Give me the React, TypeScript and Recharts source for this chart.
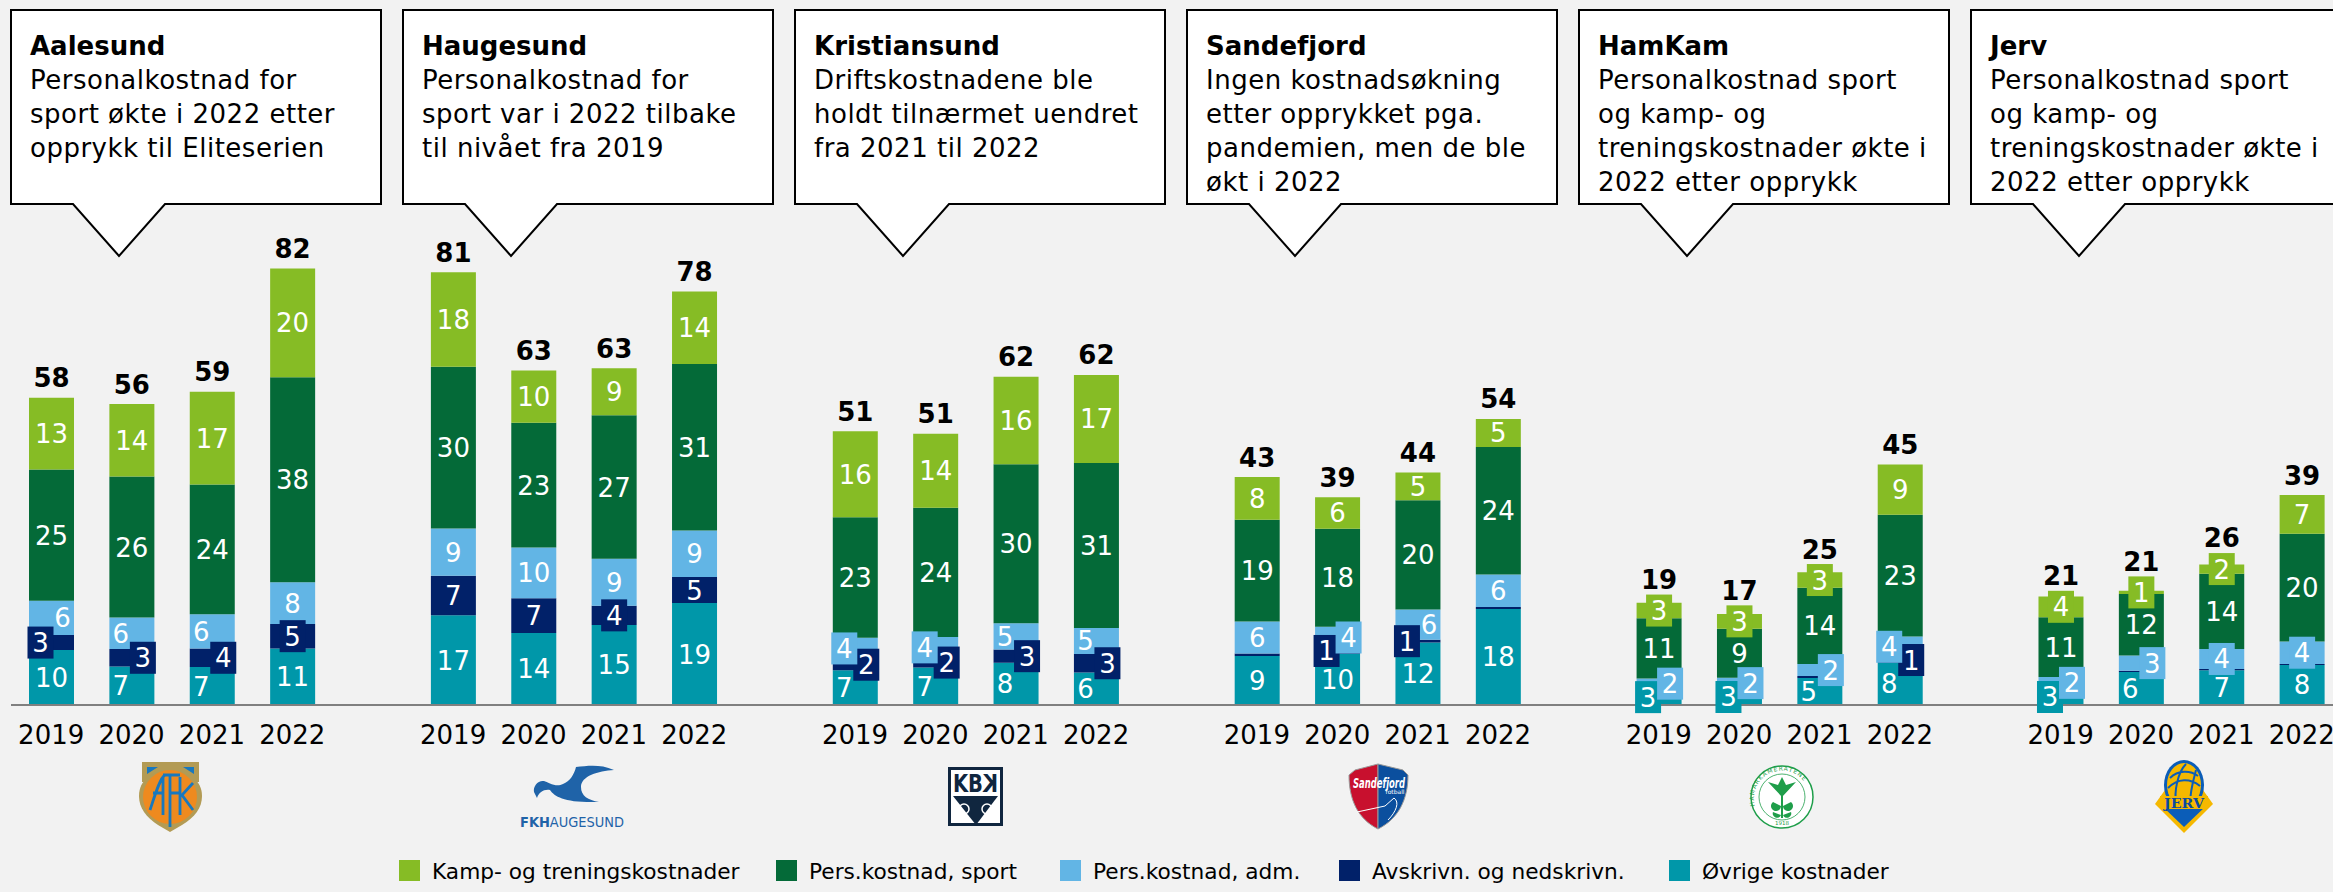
import React from "react";
import { BarChart, Bar, XAxis, YAxis, LabelList, Legend } from "recharts";

const clubs = ["Aalesund", "Haugesund", "Kristiansund", "Sandefjord", "HamKam", "Jerv"];
const years = ["2019", "2020", "2021", "2022"];

// Values per club, four years each (MNOK).
const ovrige = [
  10.3, 7.2, 7.1, 10.6,
  16.8, 13.5, 15.0, 19.1,
  6.5, 7.05, 7.9, 6.1,
  9.2, 9.6, 11.7, 18.0,
  2.95, 3.0, 5.07, 7.9,
  3.0, 6.2, 6.5, 7.5,
];
const avskrivn = [
  2.8, 3.3, 3.5, 4.6,
  7.4, 6.5, 3.6, 4.9,
  2.1, 1.8, 2.5, 3.45,
  0.45, 1.05, 0.52, 0.37,
  0.1, 0.1, 0.35, 1.06,
  0.05, 0.2, 0.25, 0.2,
];
const adm = [
  6.45, 5.9, 6.4, 7.8,
  8.9, 9.5, 8.8, 8.7,
  4.0, 3.9, 4.9, 4.9,
  6.0, 4.0, 5.7, 6.1,
  1.9, 2.0, 2.25, 3.9,
  2.2, 2.9, 3.75, 4.2,
];
const sport = [
  24.6, 26.4, 24.3, 38.4,
  30.3, 23.4, 26.9, 31.2,
  22.6, 24.2, 29.8, 30.9,
  19.06, 18.4, 20.45, 23.9,
  11.3, 9.2, 14.3, 22.8,
  11.2, 11.5, 14.1, 20.2,
];
const kamp = [
  13.45, 13.6, 17.4, 20.4,
  17.7, 9.8, 8.8, 13.6,
  16.1, 13.9, 16.4, 16.5,
  8.0, 5.9, 5.2, 5.25,
  2.9, 2.75, 2.9, 9.4,
  3.9, 0.6, 1.75, 7.25,
];
const totals = [
  58, 56, 59, 82,
  81, 63, 63, 78,
  51, 51, 62, 62,
  43, 39, 44, 54,
  19, 17, 25, 45,
  21, 21, 26, 39,
];

const seriesNames = {
  kamp: "Kamp- og treningskostnader",
  sport: "Pers.kostnad, sport",
  adm: "Pers.kostnad, adm.",
  avskrivn: "Avskrivn. og nedskrivn.",
  ovrige: "Øvrige kostnader",
};

const notes: string[][] = [
  ["Personalkostnad for", "sport økte i 2022 etter", "opprykk til Eliteserien"],
  ["Personalkostnad for", "sport var i 2022 tilbake", "til nivået fra 2019"],
  ["Driftskostnadene ble", "holdt tilnærmet uendret", "fra 2021 til 2022"],
  ["Ingen kostnadsøkning", "etter opprykket pga.", "pandemien, men de ble", "økt i 2022"],
  ["Personalkostnad sport", "og kamp- og", "treningskostnader økte i", "2022 etter opprykk"],
  ["Personalkostnad sport", "og kamp- og", "treningskostnader økte i", "2022 etter opprykk"],
];

const rows: any[] = [];
const rowById: Record<string, any> = {};
clubs.forEach((club, c) => {
  years.forEach((year, y) => {
    const i = c * 4 + y;
    const row = {
      id: `${club}-${year}`,
      year,
      ovrige: ovrige[i],
      avskrivn: avskrivn[i],
      adm: adm[i],
      sport: sport[i],
      kamp: kamp[i],
      total: totals[i],
    };
    rows.push(row);
    rowById[row.id] = row;
  });
  if (c < clubs.length - 1) {
    rows.push({ id: `gap-${c}`, year: "" });
  }
});

// Label placement (horizontal shift of labels on short segments, and extra lift of totals).
const S = 11;
const labelShift: Record<string, Record<string, number>> = {
  "Aalesund-2019": { adm: S, avskrivn: -S },
  "Aalesund-2020": { ovrige: -S, adm: -S, avskrivn: S },
  "Aalesund-2021": { ovrige: -S, adm: -S, avskrivn: S },
  "Kristiansund-2019": { ovrige: -S, adm: -S, avskrivn: S },
  "Kristiansund-2020": { ovrige: -S, adm: -S, avskrivn: S },
  "Kristiansund-2021": { ovrige: -S, adm: -S, avskrivn: S },
  "Kristiansund-2022": { ovrige: -S, adm: -S, avskrivn: S },
  "Sandefjord-2020": { adm: S, avskrivn: -S },
  "Sandefjord-2021": { adm: S, avskrivn: -S },
  "HamKam-2019": { ovrige: -S, adm: S },
  "HamKam-2020": { ovrige: -S, adm: S },
  "HamKam-2021": { ovrige: -S, adm: S },
  "HamKam-2022": { ovrige: -S, adm: -S, avskrivn: S },
  "Jerv-2019": { ovrige: -S, adm: S },
  "Jerv-2020": { ovrige: -S, adm: S },
};
const totalLift: Record<string, number> = {
  "HamKam-2019": 3,
  "HamKam-2020": 3.5,
  "HamKam-2021": 3,
  "Jerv-2019": 1,
  "Jerv-2020": 9,
  "Jerv-2021": 7,
};

const FONT = '"DejaVu Sans", Verdana, sans-serif';
const COLORS: Record<string, string> = {
  kamp: "#86BC25",
  sport: "#046A38",
  adm: "#62B5E5",
  avskrivn: "#012169",
  ovrige: "#0097A9",
};
const LEGEND_X = [399, 776, 1060, 1339, 1669];
const legendOrder = ["kamp", "sport", "adm", "avskrivn", "ovrige"];

const segmentLabel = (key: string) => (props: any) => {
  const { x, y, width, height, value } = props;
  const row = rowById[value];
  if (!row) return null;
  const v = Math.round(row[key]);
  if (v === 0) return null;
  const dx = labelShift[row.id]?.[key] ?? 0;
  const cx = x + width / 2 + dx;
  const cy = y + height / 2;
  return (
    <g>
      {height < 25.5 ? <rect x={cx - 13} y={cy - 16} width={26} height={32} fill={COLORS[key]} /> : null}
      <text x={cx} y={cy + 9.5} textAnchor="middle" fontSize={26} fill="#fff" fontFamily={FONT}>
        {v}
      </text>
    </g>
  );
};

const totalLabel = (props: any) => {
  const { x, y, width, value } = props;
  const row = rowById[value];
  if (!row) return null;
  const lift = totalLift[row.id] ?? 0;
  return (
    <text
      x={x + width / 2}
      y={y - 20 - lift + 9.5}
      textAnchor="middle"
      fontSize={26}
      fontWeight={700}
      fill="#000"
      fontFamily={FONT}
    >
      {row.total}
    </text>
  );
};

const LegendBlock = () => (
  <div style={{ position: "relative", width: 2333, height: 40, fontFamily: FONT }}>
    {legendOrder.map((k, i) => (
      <div key={k} style={{ position: "absolute", left: LEGEND_X[i], top: 16, display: "flex", alignItems: "center" }}>
        <div style={{ width: 21, height: 21, background: COLORS[k], marginRight: 12 }} />
        <span style={{ fontSize: 21.7, color: "#000", whiteSpace: "nowrap", lineHeight: "21px", position: "relative", top: 1 }}>
          {(seriesNames as any)[k]}
        </span>
      </div>
    ))}
  </div>
);

const Callout = ({ left, title, lines }: { left: number; title: string; lines: string[] }) => {
  const t = 10;
  const b = 204;
  const r = left + 370;
  const d = `M${left},${t} H${r} V${b} H${left + 154} L${left + 108},256 L${left + 62},${b} H${left} Z`;
  return (
    <g fontFamily={FONT} fontSize={26} fill="#000">
      <path d={d} fill="#fff" stroke="#000" strokeWidth={2} />
      <text x={left + 19} y={55} fontWeight={700}>
        {title}
      </text>
      {lines.map((l, i) => (
        <text key={i} x={left + 19} y={89 + i * 34} letterSpacing={0.5}>
          {l}
        </text>
      ))}
    </g>
  );
};

const Logos = () => (
  <g>
    {/* Aalesund */}
    <rect x={142} y={762} width={57} height={20} fill="#B39B54" />
    <path d="M147,767 H158 L147,774 Z M194,767 H183 L194,774 Z" fill="#1878BE" />
    <path d="M170,832 L158,825 C146,817 139,808 139,796 C139,780 152,771 170,771 C188,771 202,780 202,796 C202,808 195,817 182,825 Z" fill="#B39B54" />
    <ellipse cx={170} cy={797} rx={27} ry={27} fill="#EE8A1F" />
    <path d="M150,810 C155,795 160,778 165,775 M163,777 V815 M153,793 H163 M170,775 V827 M163,775 H180 M170,793 H179 M180,777 V815 M193,783 L182,795 L193,810" fill="none" stroke="#1878BE" strokeWidth={2.8} />
    {/* Haugesund */}
    <path d="M614,770 C600,764 588,766 576,767 C574,775 570,781 563,784 C556,788 548,782 544,781 C538,780 533,786 534,792 L537,798 C539,792 544,789 550,790 C555,797 565,803 599,802 C588,800 581,796 581,787 C581,776 598,771 614,770 Z" fill="#1F63A8" />
    <text x={572} y={827} textAnchor="middle" fontSize={14} fill="#1F63A8" fontFamily={FONT} textLength={104} lengthAdjust="spacingAndGlyphs">
      <tspan fontWeight={700}>FKH</tspan>AUGESUND
    </text>
    {/* Kristiansund */}
    <rect x={948} y={767} width={55} height={59} fill="#10263F" />
    <rect x={951} y={770} width={49} height={53} fill="#fff" />
    <text x={953} y={792} fontSize={24} fontWeight={700} fill="#10263F" fontFamily={FONT} textLength={30} lengthAdjust="spacingAndGlyphs">KB</text>
    <text transform="translate(998,792) scale(-1,1)" fontSize={24} fontWeight={700} fill="#10263F" fontFamily={FONT} textLength={15} lengthAdjust="spacingAndGlyphs">K</text>
    <path d="M953,796 H998 L976,825 Z" fill="#10263F" />
    <circle cx={964} cy={809} r={5} fill="none" stroke="#fff" strokeWidth={1.5} />
    <circle cx={987} cy={809} r={5} fill="none" stroke="#fff" strokeWidth={1.5} />
    {/* Sandefjord */}
    <path d="M1378,764 L1355,770 L1349,775 C1349,800 1358,819 1378,829 Z" fill="#C8102E" stroke="#9A9A9A" strokeWidth={1} />
    <path d="M1378,764 L1403,770 L1408,775 C1408,800 1398,819 1378,829 Z" fill="#0B4F9E" stroke="#9A9A9A" strokeWidth={1} />
    <text x={1379} y={788} textAnchor="middle" fontSize={14} fontStyle="italic" fontWeight={700} fill="#fff" fontFamily={FONT} textLength={52} lengthAdjust="spacingAndGlyphs">Sandefjord</text>
    <text x={1395} y={794} textAnchor="middle" fontSize={6} fill="#fff" fontFamily={FONT}>fotball</text>
    <path d="M1357,812 L1385,806 L1394,798 C1400,802 1396,812 1388,820" fill="none" stroke="#fff" strokeWidth={1} />
    {/* HamKam */}
    <circle cx={1782} cy={797} r={31} fill="#fff" stroke="#1F9E4A" strokeWidth={1.5} />
    <circle cx={1782} cy={797} r={23} fill="none" stroke="#1F9E4A" strokeWidth={0.8} />
    <path id="hk-arc" d="M1755,806 A28,28 0 1 1 1809,806" fill="none" />
    <text fontSize={6} fill="#1F9E4A" fontFamily={FONT} letterSpacing={1}>
      <textPath href="#hk-arc">HAMARKAMERATENE</textPath>
    </text>
    <text x={1782} y={825} textAnchor="middle" fontSize={5.5} fill="#1F9E4A" fontFamily={FONT}>1918</text>
    <path d="M1768,782 L1782,797 L1796,782 L1786,785 L1782,777 L1778,785 Z" fill="#1F9E4A" />
    <path d="M1781,795 H1783 V818 H1781 Z M1773,802 a5,5 0 1 0 8,4 Z M1791,802 a5,5 0 1 1 -8,4 Z M1773,812 a4,4 0 1 0 8,3 Z M1791,812 a4,4 0 1 1 -8,3 Z" fill="#1F9E4A" />
    {/* Jerv */}
    <path d="M2184,833 L2155,804 L2165,790 H2203 L2213,804 Z" fill="#F5B800" />
    <path d="M2184,827 L2162,806 L2206,806 Z" fill="#0B5DB8" />
    <ellipse cx={2184} cy={785} rx={20} ry={25} fill="#0B5DB8" />
    <ellipse cx={2184} cy={785} rx={17} ry={22} fill="#F5B800" />
    <path d="M2170,778 C2178,770 2190,770 2198,776 M2168,788 C2178,778 2190,778 2200,786 M2176,805 C2174,790 2178,772 2186,764 M2190,805 C2190,790 2194,778 2196,770" fill="none" stroke="#0B5DB8" strokeWidth={2} />
    <rect x={2160} y={796} width={48} height={13} fill="#F5B800" />
    <text x={2184} y={808} textAnchor="middle" fontSize={13} fontWeight={700} fill="#0B4A9E" fontFamily='"DejaVu Serif", serif' textLength={40} lengthAdjust="spacingAndGlyphs">JERV</text>
  </g>
);

export default function App() {
  return (
    <div style={{ position: "absolute", left: 0, top: 0, width: 2333, height: 892, overflow: "hidden", background: "#F2F2F2" }}>
      <BarChart
        width={2342}
        height={892}
        data={rows}
        margin={{ top: 38, right: 0, left: 11, bottom: 8 }}
        barSize={45}
      >
        <XAxis
          dataKey="id"
          interval={0}
          height={139}
          tickLine={false}
          tickSize={0}
          tickMargin={21}
          axisLine={{ stroke: "#808080", strokeWidth: 2 }}
          tick={{ fontSize: 26, fill: "#000", fontFamily: FONT }}
          tickFormatter={(id: string) => (id.startsWith("gap") ? "" : id.split("-")[1])}
        />
        <YAxis hide domain={[0, 125]} />
        <Legend content={<LegendBlock />} wrapperStyle={{ left: 0, width: 2333, height: 40 }} height={40} />
        {["ovrige", "avskrivn", "adm", "sport", "kamp"].map((k) => (
          <Bar key={k} dataKey={k} name={(seriesNames as any)[k]} stackId="a" fill={COLORS[k]} isAnimationActive={false}>
            <LabelList dataKey="id" content={segmentLabel(k)} />
            {k === "kamp" ? <LabelList dataKey="id" content={totalLabel} /> : null}
          </Bar>
        ))}
      </BarChart>
      <svg width={2333} height={892} style={{ position: "absolute", left: 0, top: 0, pointerEvents: "none" }}>
        {clubs.map((c, i) => (
          <Callout key={c} left={11 + i * 392} title={c} lines={notes[i]} />
        ))}
        <Logos />
      </svg>
    </div>
  );
}
